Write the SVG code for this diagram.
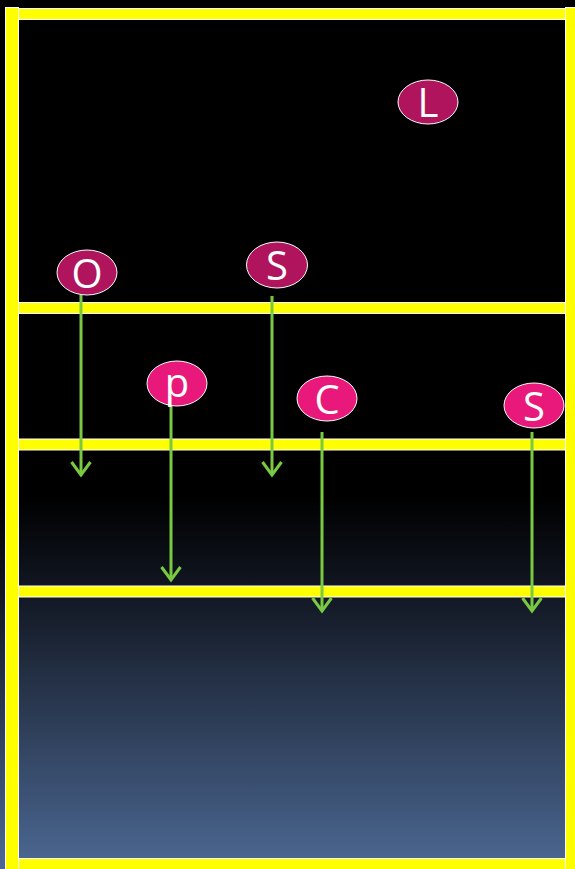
<svg xmlns="http://www.w3.org/2000/svg" width="575" height="869" viewBox="0 0 575 869">
<defs>
<linearGradient id="bg" x1="0" y1="0" x2="0" y2="869" gradientUnits="userSpaceOnUse">
<stop offset="0" stop-color="#000000"/>
<stop offset="0.57" stop-color="#000000"/>
<stop offset="0.69" stop-color="#131925"/>
<stop offset="1" stop-color="#4c6893"/>
</linearGradient>
<marker id="arr" markerWidth="30" markerHeight="30" refX="15" refY="15" orient="auto" markerUnits="userSpaceOnUse" viewBox="0 0 30 30">
<path d="M2,5.5 L15,15 L2,24.5" fill="none" stroke="#7ac943" stroke-width="3"/>
</marker>
<style>
.bar{fill:#ffff00;stroke:#ffffff;stroke-width:1}
.n1{fill:#b0145c;stroke:#ffffff;stroke-width:1}
.n2{fill:#e8197a;stroke:#ffffff;stroke-width:1}
.t{fill:#ffffff;font-family:"Open Sans","Liberation Sans",sans-serif;font-size:40px;text-anchor:middle}
.c{stroke:#7ac943;stroke-width:3;fill:none;marker-end:url(#arr)}
</style>
</defs>
<rect x="0" y="0" width="575" height="869" fill="url(#bg)"/>
<g id="frame">
<rect class="bar" x="5.5" y="7.5" width="13" height="862"/>
<rect class="bar" x="565.5" y="7.5" width="13" height="862"/>
<rect class="bar" x="18.5" y="8.5" width="547" height="11"/>
<rect class="bar" x="18.5" y="302.5" width="547" height="11"/>
<rect class="bar" x="18.5" y="439" width="547" height="11"/>
<rect class="bar" x="18.5" y="586" width="547" height="11"/>
<rect class="bar" x="18.5" y="858.5" width="547" height="11"/>
</g>
<g id="connectors">
<line class="c" x1="81" y1="295" x2="81" y2="475"/>
<line class="c" x1="272" y1="296" x2="272" y2="475"/>
<line class="c" x1="171" y1="402" x2="171" y2="580"/>
<line class="c" x1="322" y1="432" x2="322" y2="611"/>
<line class="c" x1="532" y1="432" x2="532" y2="611"/>
</g>
<g id="node-L"><ellipse class="n1" cx="428" cy="102" rx="30" ry="22"/><text class="t" x="428" y="117">L</text></g>
<g id="node-O"><ellipse class="n1" cx="87" cy="272.5" rx="30" ry="22.5"/><text class="t" x="87" y="288">O</text></g>
<g id="node-S1"><ellipse class="n1" cx="277" cy="265" rx="30.5" ry="23"/><text class="t" x="277" y="280">S</text></g>
<g id="node-p"><ellipse class="n2" cx="177" cy="383.5" rx="30" ry="22.5"/><text class="t" x="177" y="397">p</text></g>
<g id="node-C"><ellipse class="n2" cx="327" cy="398.5" rx="30" ry="22.5"/><text class="t" x="327" y="414">C</text></g>
<g id="node-S2"><ellipse class="n2" cx="534" cy="405.5" rx="30" ry="22.5"/><text class="t" x="534" y="421">S</text></g>
</svg>
